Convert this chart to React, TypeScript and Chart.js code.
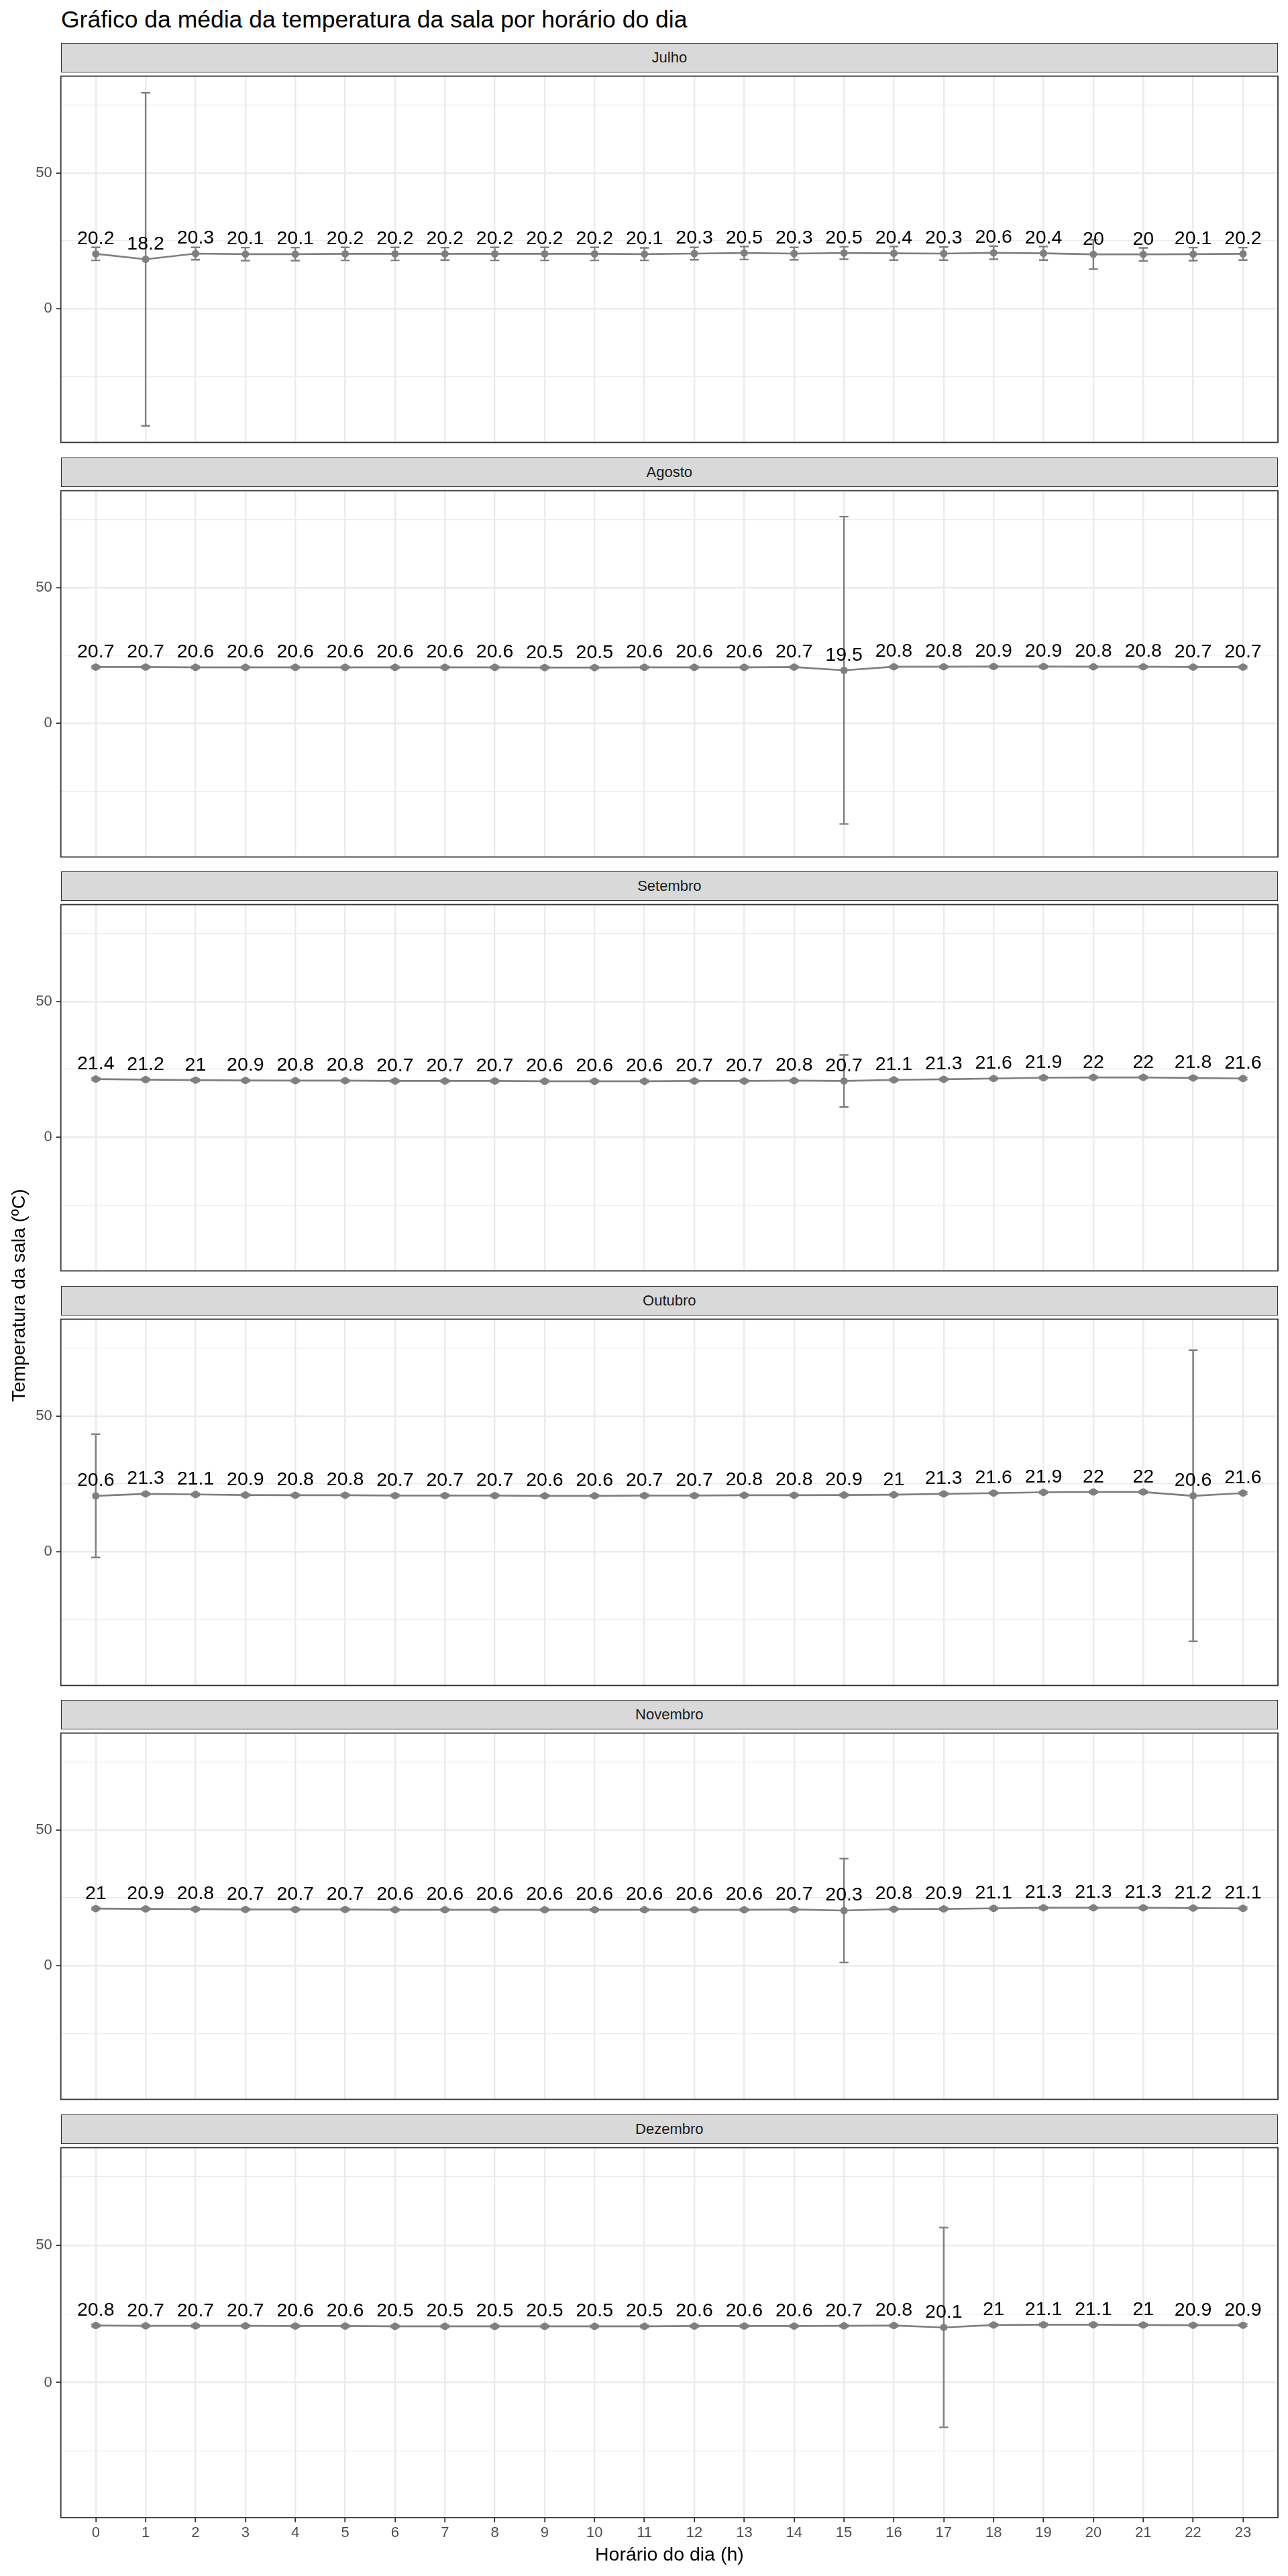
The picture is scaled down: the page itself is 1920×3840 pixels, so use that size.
import React, { useEffect, useRef } from "react";
import { Chart, registerables } from "chart.js";

Chart.register(...registerables);

// ---------------- data ----------------
const TITLE = "Gráfico da média da temperatura da sala por horário do dia";
const X_TITLE = "Horário do dia (h)";
const Y_TITLE = "Temperatura da sala (ºC)";

const HOURS = [0, 1, 2, 3, 4, 5, 6, 7, 8, 9, 10, 11, 12, 13, 14, 15, 16, 17, 18, 19, 20, 21, 22, 23];
const MONTHS = ["Julho", "Agosto", "Setembro", "Outubro", "Novembro", "Dezembro"];

const Y_GRID_VALUES = [-25, 0, 25, 50, 75];
const Y_TICK_LABELS = [0, 50];

const JULHO_MEAN = [20.2, 18.2, 20.3, 20.1, 20.1, 20.2, 20.2, 20.2, 20.2, 20.2, 20.2, 20.1, 20.3, 20.5, 20.3, 20.5, 20.4, 20.3, 20.6, 20.4, 20.0, 20.0, 20.1, 20.2];
const JULHO_SD = [2.4, 61.3, 2.3, 2.4, 2.4, 2.4, 2.4, 2.3, 2.4, 2.4, 2.4, 2.3, 2.3, 2.4, 2.3, 2.3, 2.5, 2.4, 2.4, 2.5, 5.4, 2.4, 2.4, 2.3];

const AGOSTO_MEAN = [20.7, 20.7, 20.6, 20.6, 20.6, 20.6, 20.6, 20.6, 20.6, 20.5, 20.5, 20.6, 20.6, 20.6, 20.7, 19.5, 20.8, 20.8, 20.9, 20.9, 20.8, 20.8, 20.7, 20.7];
const AGOSTO_SD = [0.4, 0.4, 0.4, 0.4, 0.4, 0.4, 0.4, 0.4, 0.4, 0.4, 0.4, 0.4, 0.4, 0.4, 0.4, 56.6, 0.4, 0.4, 0.4, 0.4, 0.4, 0.4, 0.4, 0.4];

const SETEMBRO_MEAN = [21.4, 21.2, 21.0, 20.9, 20.8, 20.8, 20.7, 20.7, 20.7, 20.6, 20.6, 20.6, 20.7, 20.7, 20.8, 20.7, 21.1, 21.3, 21.6, 21.9, 22.0, 22.0, 21.8, 21.6];
const SETEMBRO_SD = [0.4, 0.4, 0.4, 0.4, 0.4, 0.4, 0.4, 0.4, 0.4, 0.4, 0.4, 0.4, 0.4, 0.4, 0.4, 9.6, 0.4, 0.4, 0.4, 0.4, 0.4, 0.4, 0.4, 0.4];

const OUTUBRO_MEAN = [20.6, 21.3, 21.1, 20.9, 20.8, 20.8, 20.7, 20.7, 20.7, 20.6, 20.6, 20.7, 20.7, 20.8, 20.8, 20.9, 21.0, 21.3, 21.6, 21.9, 22.0, 22.0, 20.6, 21.6];
const OUTUBRO_SD = [22.7, 0.4, 0.4, 0.4, 0.4, 0.4, 0.4, 0.4, 0.4, 0.4, 0.4, 0.4, 0.4, 0.4, 0.4, 0.4, 0.4, 0.4, 0.4, 0.4, 0.4, 0.4, 53.6, 0.4];

const NOVEMBRO_MEAN = [21.0, 20.9, 20.8, 20.7, 20.7, 20.7, 20.6, 20.6, 20.6, 20.6, 20.6, 20.6, 20.6, 20.6, 20.7, 20.3, 20.8, 20.9, 21.1, 21.3, 21.3, 21.3, 21.2, 21.1];
const NOVEMBRO_SD = [0.4, 0.4, 0.4, 0.4, 0.4, 0.4, 0.4, 0.4, 0.4, 0.4, 0.4, 0.4, 0.4, 0.4, 0.4, 19.1, 0.4, 0.4, 0.4, 0.4, 0.4, 0.4, 0.4, 0.4];

const DEZEMBRO_MEAN = [20.8, 20.7, 20.7, 20.7, 20.6, 20.6, 20.5, 20.5, 20.5, 20.5, 20.5, 20.5, 20.6, 20.6, 20.6, 20.7, 20.8, 20.1, 21.0, 21.1, 21.1, 21.0, 20.9, 20.9];
const DEZEMBRO_SD = [0.4, 0.4, 0.4, 0.4, 0.4, 0.4, 0.4, 0.4, 0.4, 0.4, 0.4, 0.4, 0.4, 0.4, 0.4, 0.4, 0.4, 36.4, 0.4, 0.4, 0.4, 0.4, 0.4, 0.4];

const MEANS = [JULHO_MEAN, AGOSTO_MEAN, SETEMBRO_MEAN, OUTUBRO_MEAN, NOVEMBRO_MEAN, DEZEMBRO_MEAN];
const SDS = [JULHO_SD, AGOSTO_SD, SETEMBRO_SD, OUTUBRO_SD, NOVEMBRO_SD, DEZEMBRO_SD];

// ---------------- layout / style ----------------
const FONT = "'Liberation Sans', Arial, Helvetica, sans-serif";
const W = 1920;
const H = 3840;
const PANEL_LEFT = 90.7;
const PANEL_RIGHT = 1905;
const STRIP_TOP0 = 64;
const STRIP_H = 44;
const PLOT_H = 557;
const PERIOD = 617.6;
const X_AXIS_H = 45;
const X_EXPAND = 0.7;
const ERRORBAR_WIDTH = 0.18;

const GREY = "#7F7F7F";
const GRID = "#EBEBEB";
const DARK = "#333333";
const TICK_TXT = "#4D4D4D";

function yLimits() {
  let lo = Infinity;
  let hi = -Infinity;
  MEANS.forEach((m, k) =>
    m.forEach((v, i) => {
      lo = Math.min(lo, v - SDS[k][i]);
      hi = Math.max(hi, v + SDS[k][i]);
    })
  );
  const pad = 0.05 * (hi - lo);
  return [lo - pad, hi + pad];
}

function fmt(v: number) {
  return String(Math.round(v * 10) / 10);
}

function Panel({ k }: { k: number }) {
  const ref = useRef<HTMLCanvasElement | null>(null);
  const isLast = k === MONTHS.length - 1;
  const top = STRIP_TOP0 + STRIP_H + k * PERIOD;
  const height = PLOT_H + (isLast ? X_AXIS_H : 0);

  useEffect(() => {
    const canvas = ref.current;
    if (!canvas) return;
    const mean = MEANS[k];
    const sd = SDS[k];
    const [yMin, yMax] = yLimits();

    const errorBars = {
      id: "errorBars" + k,
      beforeDatasetsDraw(chart: any) {
        const { ctx, scales } = chart;
        const xs = scales.x;
        const ys = scales.y;
        ctx.save();
        ctx.strokeStyle = GREY;
        ctx.lineWidth = 2.4;
        ctx.lineCap = "butt";
        HOURS.forEach((h, i) => {
          const yt = ys.getPixelForValue(mean[i] + sd[i]);
          const yb = ys.getPixelForValue(mean[i] - sd[i]);
          const xc = xs.getPixelForValue(h);
          const xl = xs.getPixelForValue(h - ERRORBAR_WIDTH / 2);
          const xr = xs.getPixelForValue(h + ERRORBAR_WIDTH / 2);
          ctx.beginPath();
          ctx.moveTo(xc, yt);
          ctx.lineTo(xc, yb);
          ctx.moveTo(xl, yt);
          ctx.lineTo(xr, yt);
          ctx.moveTo(xl, yb);
          ctx.lineTo(xr, yb);
          ctx.stroke();
        });
        ctx.restore();
      },
    };

    const valueLabels = {
      id: "valueLabels" + k,
      afterDatasetsDraw(chart: any) {
        const { ctx } = chart;
        const meta = chart.getDatasetMeta(0);
        ctx.save();
        ctx.fillStyle = "#000000";
        ctx.font = `28.5px ${FONT}`;
        ctx.textAlign = "center";
        ctx.textBaseline = "alphabetic";
        meta.data.forEach((pt: any, i: number) => {
          ctx.fillText(fmt(mean[i]), pt.x, pt.y - 14.5);
        });
        ctx.restore();
      },
    };

    const panelBorder = {
      id: "panelBorder" + k,
      afterDraw(chart: any) {
        const { ctx, chartArea } = chart;
        ctx.save();
        ctx.strokeStyle = DARK;
        ctx.lineWidth = 1.8;
        ctx.strokeRect(chartArea.left, chartArea.top, chartArea.right - chartArea.left, chartArea.bottom - chartArea.top);
        ctx.restore();
      },
    };

    const chart = new Chart(canvas, {
      type: "line",
      data: {
        datasets: [
          {
            data: HOURS.map((h, i) => ({ x: h, y: mean[i] })),
            borderColor: GREY,
            borderWidth: 2.7,
            backgroundColor: GREY,
            pointBackgroundColor: GREY,
            pointBorderColor: GREY,
            pointBorderWidth: 0,
            pointRadius: 5.5,
            tension: 0,
            fill: false,
          },
        ],
      },
      options: {
        animation: false,
        responsive: false,
        maintainAspectRatio: false,
        devicePixelRatio: 1,
        events: [],
        layout: { padding: { left: 0, right: W - PANEL_RIGHT, top: 0, bottom: 0 } },
        plugins: {
          legend: { display: false },
          tooltip: { enabled: false },
          title: { display: false },
        },
        scales: {
          x: {
            type: "linear",
            min: HOURS[0] - X_EXPAND,
            max: HOURS[HOURS.length - 1] + X_EXPAND,
            afterBuildTicks: (s: any) => {
              s.ticks = HOURS.map((v) => ({ value: v }));
            },
            afterFit: (s: any) => {
              s.height = isLast ? X_AXIS_H : 0;
              s.paddingLeft = 0;
              s.paddingRight = 0;
            },
            ticks: {
              display: isLast,
              color: TICK_TXT,
              font: { family: FONT, size: 22 },
              padding: 3,
              maxRotation: 0,
              autoSkip: false,
              callback: (v: any) => String(v),
            },
            grid: {
              color: GRID,
              lineWidth: 2.4,
              drawTicks: isLast,
              tickLength: 7,
              tickColor: DARK,
              tickWidth: 1.8,
            },
            border: { display: false },
          },
          y: {
            type: "linear",
            min: yMin,
            max: yMax,
            afterBuildTicks: (s: any) => {
              s.ticks = Y_GRID_VALUES.map((v) => ({ value: v }));
            },
            afterFit: (s: any) => {
              s.width = PANEL_LEFT;
              s.paddingTop = 0;
              s.paddingBottom = 0;
            },
            ticks: {
              color: TICK_TXT,
              font: { family: FONT, size: 22 },
              padding: 6,
              callback: (v: any) => (Y_TICK_LABELS.includes(v) ? String(v) : ""),
            },
            grid: {
              color: GRID,
              lineWidth: (ctx: any) => (Y_TICK_LABELS.includes(ctx.tick?.value) ? 2.4 : 1.3),
              drawTicks: true,
              tickLength: 7,
              tickColor: (ctx: any) => (Y_TICK_LABELS.includes(ctx.tick?.value) ? DARK : "rgba(0,0,0,0)"),
              tickWidth: 1.8,
            },
            border: { display: false },
          },
        },
      } as any,
      plugins: [errorBars, valueLabels, panelBorder],
    });
    return () => chart.destroy();
  }, [k]);

  return (
    <>
      <div
        style={{
          position: "absolute",
          left: PANEL_LEFT,
          top: STRIP_TOP0 + k * PERIOD,
          width: PANEL_RIGHT - PANEL_LEFT,
          height: STRIP_H,
          boxSizing: "border-box",
          border: `1.8px solid ${DARK}`,
          background: "#D9D9D9",
          display: "flex",
          alignItems: "center",
          justifyContent: "center",
          fontFamily: FONT,
          fontSize: 22,
          color: "#1A1A1A",
        }}
      >
        {MONTHS[k]}
      </div>
      <canvas
        ref={ref}
        width={W}
        height={height}
        style={{ position: "absolute", left: 0, top, width: W, height, display: "block" }}
      />
    </>
  );
}

export default function App() {
  const plotTop = STRIP_TOP0;
  const plotBottom = STRIP_TOP0 + STRIP_H + (MONTHS.length - 1) * PERIOD + PLOT_H;
  return (
    <div
      style={{
        position: "absolute",
        left: 0,
        top: 0,
        width: W,
        height: H,
        background: "#ffffff",
        overflow: "hidden",
        fontFamily: FONT,
      }}
    >
      <div
        style={{
          position: "absolute",
          left: 91,
          top: 8,
          fontSize: 35.5,
          lineHeight: "42px",
          color: "#000000",
          whiteSpace: "nowrap",
        }}
      >
        {TITLE}
      </div>
      {MONTHS.map((_, k) => (
        <Panel key={k} k={k} />
      ))}
      <div
        style={{
          position: "absolute",
          left: PANEL_LEFT,
          width: PANEL_RIGHT - PANEL_LEFT,
          top: 3807 - 17,
          height: 34,
          lineHeight: "34px",
          textAlign: "center",
          fontSize: 28.5,
          color: "#000000",
          whiteSpace: "nowrap",
        }}
      >
        {X_TITLE}
      </div>
      <div
        style={{
          position: "absolute",
          left: 27 - 300,
          top: (plotTop + STRIP_H + plotBottom) / 2 - 17,
          width: 600,
          height: 34,
          lineHeight: "34px",
          textAlign: "center",
          fontSize: 28.5,
          color: "#000000",
          whiteSpace: "nowrap",
          transform: "rotate(-90deg)",
          transformOrigin: "50% 50%",
        }}
      >
        {Y_TITLE}
      </div>
    </div>
  );
}
